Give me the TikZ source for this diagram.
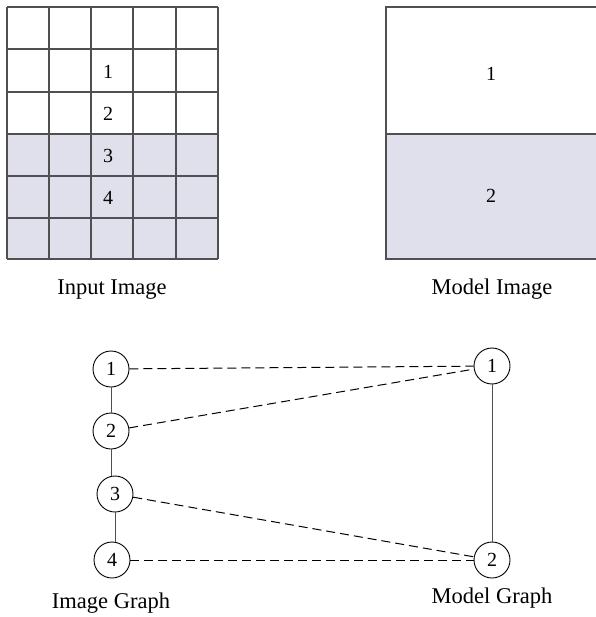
\documentclass[tikz,border=0pt]{standalone}
\usepackage{fontspec}
\setmainfont{Liberation Serif}
\definecolor{regionfill}{RGB}{224,224,236}
\definecolor{gridgray}{RGB}{80,80,80}
\begin{document}
\begin{tikzpicture}[x=1pt,y=-1pt,
  gridline/.style={draw=gridgray,line width=1.2pt},
  label/.style={font=\fontsize{22.5}{26}\selectfont,inner sep=0pt,anchor=base},
  num/.style={font=\fontsize{20}{23}\selectfont,inner sep=0pt},
  gnode/.style={circle,draw=black,line width=0.9pt,minimum size=36pt,inner sep=0pt,font=\fontsize{20}{23}\selectfont},
  tree/.style={draw=gridgray,line width=0.9pt},
  match/.style={draw=black,line width=1pt,dash pattern=on 9pt off 5pt}]
\useasboundingbox (0,0) rectangle (595,617);

% input image: 5x6 grid, lower half shaded
\fill[regionfill] (7,134) rectangle (218,259);
\foreach \x in {7,49,91,133,176,218} \draw[gridline] (\x,7) -- (\x,259);
\foreach \y in {7,49,92,134,176,218,259} \draw[gridline] (7,\y) -- (218,\y);
\node[num] (p1) at (108,72) {1};
\node[num] (p2) at (108,114) {2};
\node[num] (p3) at (108,156) {3};
\node[num] (p4) at (108,198) {4};
\node[label] (inlab) at (112,294) {Input Image};

% model image: two regions
\fill[regionfill] (386,134) rectangle (600,259);
\draw[gridline] (600,7) -- (386,7) -- (386,259) -- (600,259);
\draw[gridline] (386,134) -- (600,134);
\node[num] (m1) at (491,74) {1};
\node[num] (m2) at (491,196) {2};
\node[label] (mdlab) at (492,294) {Model Image};

% image graph
\node[gnode] (a1) at (111,369) {1};
\node[gnode] (a2) at (111,431) {2};
\node[gnode] (a3) at (115,494) {3};
\node[gnode] (a4) at (112,560) {4};
\draw[tree] (a1) -- (a2);
\draw[tree] (a2.south) -- (a2 |- a3.north);
\draw[tree] (a3.south) -- (a3 |- a4.north);
\node[label] (iglab) at (111,608) {Image Graph};

% model graph
\node[gnode] (b1) at (492,366) {1};
\node[gnode] (b2) at (492,560) {2};
\draw[tree] (b1) -- (b2);
\node[label] (mglab) at (492,603) {Model Graph};

% correspondences
\draw[match] (a1) -- (b1);
\draw[match] (a2) -- (b1);
\draw[match] (a3) -- (b2);
\draw[match] (a4) -- (b2);
\end{tikzpicture}
\end{document}
